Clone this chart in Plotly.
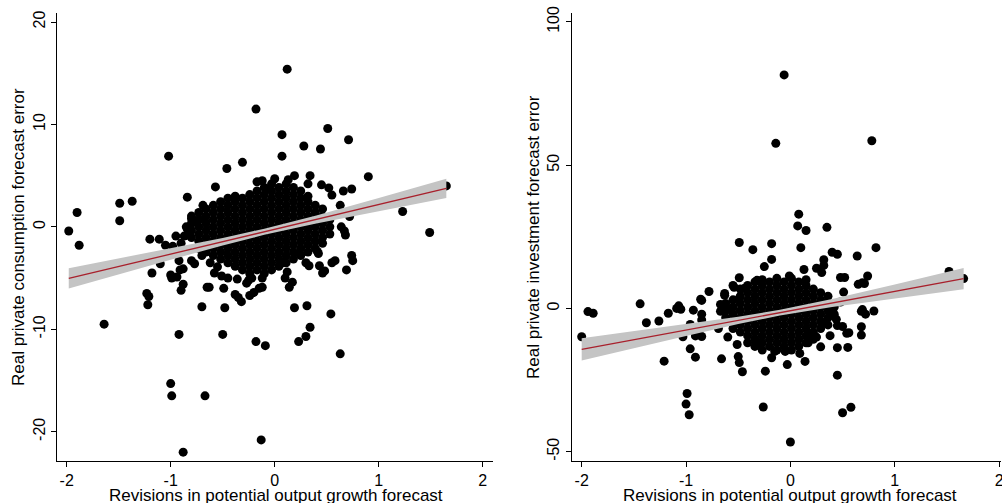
import plotly.graph_objects as go

# ---------------- Left panel: consumption ----------------
cons_out_x = [0.12, -0.18, 0.07, 0.51, 0.71, 0.28, 0.44, 0.07, -1.02, -0.31, -0.46, 0.90, 1.65, 1.23, 1.49,
              -1.98, -1.90, -1.88, -1.49, -1.37, -1.49, -0.84, -0.57, -0.17, -0.12, 0.00, 0.19, 0.34, 0.45, 0.32,
              0.13, 0.52, 0.66, 0.74, 0.55, 0.63, 0.64, 0.68, 0.67, 0.72, -0.69, -0.08, -0.68, -0.80, -0.77,
              -0.85, -0.84, -1.20, -1.11, -1.05, -0.98, -0.95, -0.90, -0.87, -0.84,
              -1.64, -1.18, -1.10, -1.23, -1.21, -1.22, -1.00, -0.99, -0.94, -0.91, -0.90, -0.88, -0.92, -0.88,
              -0.80, -0.77, -0.92, -1.00, -0.99, -0.88, -0.67, -0.70, -0.65, -0.63, -0.50, -0.48, -0.49, -0.38,
              -0.35, -0.32, -0.18, -0.09, -0.13, -0.12, -0.12, -0.20, -0.25, -0.22, 0.19, 0.31, 0.54, 0.34,
              0.30, 0.23, 0.63, 0.69, 0.74, 0.75, 0.55, 0.58, 0.48, 0.43, 0.46, 0.12, 0.10, 0.17, 0.14, 0.30,
              0.41, 0.46, 0.42, 0.24, 0.33, 0.08, -0.58, -0.51, -0.45, -0.36, -0.27, -0.70, -0.62, -0.55,
              -0.24, -0.15]
cons_out_y = [15.4, 11.5, 9.0, 9.6, 8.5, 7.9, 7.6, 6.9, 6.9, 6.3, 5.7, 4.9, 4.0, 1.5, -0.55,
              -0.4, 1.4, -1.8, 2.3, 2.5, 0.6, 2.9, 3.9, 4.4, 4.5, 4.7, 5.0, 5.0, 4.1, 4.2,
              4.6, 3.8, 3.5, 3.7, 3.1, 2.1, 0.0, -0.8, -0.4, 1.0, 2.1, 3.7, 0.7, 0.8, 0.6,
              0.0, -0.2, -1.2, -1.2, -1.8, -1.9, -0.9, -1.6, -0.9, -0.8,
              -9.5, -4.5, -3.6, -6.5, -6.8, -7.6, -4.7, -5.0, -4.9, -4.2, -6.2, -5.6, -3.3, -4.1,
              -3.3, -3.6, -10.5, -15.3, -16.5, -22.0, -16.5, -7.8, -5.9, -5.9, -10.5, -7.9, -6.0, -6.6,
              -6.9, -7.3, -11.2, -11.6, -20.8, -5.0, -5.9, -6.4, -5.2, -5.0, -7.9, -7.7, -8.5, -9.8,
              -10.7, -11.2, -12.4, -4.2, -2.8, -3.3, -3.5, -3.3, -4.3, -3.8, -4.5, -4.4, -5.0, -5.4, -5.9, -3.5,
              -2.4, -1.6, -2.6, -2.6, -3.8, -3.5, -4.5, -4.8, -5.0, -5.1, -5.5, -2.8, -3.5, -3.9,
              -6.7, -6.0]

# dense cloud, read column by column (x, list of y)
cons_cloud_x = [-0.80, -0.73, -0.66, -0.59, -0.52, -0.45, -0.38, -0.31, -0.24, -0.17,
                -0.10, -0.03, 0.04, 0.11, 0.18, 0.25, 0.32, 0.39, 0.46, 0.53]
cons_cloud_y = [
    [-1.05, -0.35, 0.35, 1.05],
    [-2.1, -1.4, -0.7, 0.0, 0.7, 1.4],
    [-2.45, -1.75, -1.05, -0.35, 0.35, 1.05, 1.75],
    [-2.8, -2.1, -1.4, -0.7, 0.0, 0.7, 1.4, 2.1],
    [-3.15, -2.45, -1.75, -1.05, -0.35, 0.35, 1.05, 1.75, 2.45],
    [-3.5, -2.8, -2.1, -1.4, -0.7, 0.0, 0.7, 1.4, 2.1, 2.8],
    [-3.85, -3.15, -2.45, -1.75, -1.05, -0.35, 0.35, 1.05, 1.75, 2.45, 3.0],
    [-4.2, -3.5, -2.8, -2.1, -1.4, -0.7, 0.0, 0.7, 1.4, 2.1, 2.8],
    [-4.55, -3.85, -3.15, -2.45, -1.75, -1.05, -0.35, 0.35, 1.05, 1.75, 2.45, 3.15],
    [-4.2, -3.5, -2.8, -2.1, -1.4, -0.7, 0.0, 0.7, 1.4, 2.1, 2.8, 3.5],
    [-4.55, -3.85, -3.15, -2.45, -1.75, -1.05, -0.35, 0.35, 1.05, 1.75, 2.45, 3.15, 3.85],
    [-4.2, -3.5, -2.8, -2.1, -1.4, -0.7, 0.0, 0.7, 1.4, 2.1, 2.8, 3.5, 4.2],
    [-3.85, -3.15, -2.45, -1.75, -1.05, -0.35, 0.35, 1.05, 1.75, 2.45, 3.15, 3.85],
    [-3.5, -2.8, -2.1, -1.4, -0.7, 0.0, 0.7, 1.4, 2.1, 2.8, 3.5, 4.2],
    [-3.15, -2.45, -1.75, -1.05, -0.35, 0.35, 1.05, 1.75, 2.45, 3.15, 3.85],
    [-2.8, -2.1, -1.4, -0.7, 0.0, 0.7, 1.4, 2.1, 2.8, 3.5],
    [-2.45, -1.75, -1.05, -0.35, 0.35, 1.05, 1.75, 2.45, 3.0],
    [-2.1, -1.4, -0.7, 0.0, 0.7, 1.4, 2.1],
    [-1.05, -0.35, 0.35, 1.05, 1.75],
    [-0.7, 0.0, 0.7],
]

cons_fit_x = [-1.98, -1.5, -1.0, -0.5, -0.1, 0.4, 1.0, 1.65]
cons_fit_y = [-5.03, -3.87, -2.66, -1.45, -0.48, 0.73, 2.18, 3.75]
cons_ci_hw = [1.00, 0.77, 0.55, 0.36, 0.30, 0.39, 0.64, 0.94]

# ---------------- Right panel: investment ----------------
inv_out_x = [-0.06, -0.14, 0.78, 0.08, 0.07, 0.15, 0.35, -0.49, -0.36, -0.18, 0.10, 0.82, 0.40, 0.45, 0.64,
             -0.18, -0.25, -0.49, -0.32, -0.55, -0.54, -0.44, -0.78, -0.63, -0.63, -0.86, -0.85, -0.49,
             -1.09, -1.07, -1.05, -1.17, -1.26, -1.38, -1.44, -0.93, -0.85, -0.85, -0.96, -0.67, -0.67, -0.58,
             -2.00, -1.94, -1.89, -1.21, -1.03, -0.91, -0.85, -0.96, -0.91, -0.99, -1.00, -0.97, -0.88,
             -0.66, -0.69, -0.60, -0.51, -0.50, -0.49, -0.46, -0.24, -0.26, -0.18, -0.03, 0.09, 0.14, 0.00,
             -0.15, -0.05, 0.32, 0.32, 0.25, 0.13, -0.01, 0.30, 0.48, 0.52, 0.74, 0.71, 0.65, 0.69, 1.52,
             1.66, 0.51, 0.48, 0.69, 0.80, 0.72, 0.68, 0.44, 0.50, 0.56, 0.68, 0.68, 0.33, 0.54, 0.45, 0.55,
             0.45, 0.58, 0.50, 0.29, 0.17, 0.17, 0.38, 0.45, -0.30, 0.25]
inv_out_y = [81.5, 57.6, 58.5, 32.9, 28.8, 27.2, 28.3, 23.0, 20.5, 22.6, 21.2, 21.2, 19.6, 18.9, 18.3,
             17.1, 14.6, 10.7, 9.8, 8.0, 7.4, 7.0, 5.9, 5.2, 4.6, 3.2, 2.8, 3.6,
             0.0, 0.9, -0.3, -1.7, -4.4, -5.0, 1.6, -0.6, -2.0, -4.0, -5.6, 1.4, -1.0, -0.3,
             -9.9, -1.1, -1.7, -18.4, -9.9, -9.6, -9.8, -14.1, -17.0, -29.7, -33.4, -37.1, -7.5,
             -17.6, -7.0, -10.0, -12.6, -16.8, -18.9, -22.1, -21.9, -34.4, -17.2, -19.6, -15.7, -18.5, -46.6,
             -15.0, -15.0, 17.0, 15.0, 14.0, 13.6, 11.3, 12.5, 10.8, 10.8, 11.3, 8.7, 8.4, 9.0, 12.9,
             10.4, 5.7, 2.2, -0.4, -0.9, -2.0, -1.0, -3.8, -6.3, -8.5, -6.4, -9.3, -4.9, -8.7, -13.7, -13.6,
             -23.3, -34.5, -36.4, -13.4, -9.0, -12.0, -9.5, -6.0, -12.0, -10.0]

inv_cloud_x = [-0.62, -0.55, -0.48, -0.41, -0.34, -0.27, -0.20, -0.13, -0.06, 0.01,
               0.08, 0.15, 0.22, 0.29, 0.36, 0.42]
inv_cloud_y = [
    [-3.25, -0.75, 1.75],
    [-7.0, -4.5, -2.0, 0.5, 3.0],
    [-8.25, -5.75, -3.25, -0.75, 1.75, 4.25, 6.75],
    [-12.0, -9.5, -7.0, -4.5, -2.0, 0.5, 3.0, 5.5, 8.0],
    [-13.25, -10.75, -8.25, -5.75, -3.25, -0.75, 1.75, 4.25, 6.75, 9.25],
    [-14.5, -12.0, -9.5, -7.0, -4.5, -2.0, 0.5, 3.0, 5.5, 8.0, 10.0],
    [-13.25, -10.75, -8.25, -5.75, -3.25, -0.75, 1.75, 4.25, 6.75, 9.25],
    [-14.5, -12.0, -9.5, -7.0, -4.5, -2.0, 0.5, 3.0, 5.5, 8.0, 10.5],
    [-13.25, -10.75, -8.25, -5.75, -3.25, -0.75, 1.75, 4.25, 6.75, 9.25],
    [-14.5, -12.0, -9.5, -7.0, -4.5, -2.0, 0.5, 3.0, 5.5, 8.0, 10.5],
    [-13.25, -10.75, -8.25, -5.75, -3.25, -0.75, 1.75, 4.25, 6.75, 9.25],
    [-12.0, -9.5, -7.0, -4.5, -2.0, 0.5, 3.0, 5.5, 8.0, 10.0],
    [-10.75, -8.25, -5.75, -3.25, -0.75, 1.75, 4.25, 6.75],
    [-7.0, -4.5, -2.0, 0.5, 3.0, 5.5],
    [-5.75, -3.25, -0.75, 1.75, 4.25],
    [-2.0, 0.5],
]

inv_fit_x = [-2.0, -1.5, -1.0, -0.5, -0.1, 0.4, 1.0, 1.66]
inv_fit_y = [-14.3, -10.9, -7.55, -4.2, -1.5, 1.9, 5.95, 10.4]
inv_ci_hw = [3.9, 2.95, 2.05, 1.28, 1.0, 1.41, 2.4, 3.7]

x_ticks = [-2, -1, 0, 1, 2]
x_tick_text = ["-2", "-1", "0", "1", "2"]
cons_y_ticks = [-20, -10, 0, 10, 20]
cons_y_text = ["-20", "-10", "0", "10", "20"]
inv_y_ticks = [-50, 0, 50, 100]
inv_y_text = ["-50", "0", "50", "100"]

x_title = "Revisions in potential output growth forecast"
cons_title = "Real private consumption forecast error"
inv_title = "Real private investment forecast error"

FONT = "Liberation Sans, Arial, sans-serif"
FS_TICK = 16
FS_TITLE = 17
DOT = dict(color="black", size=9, line=dict(width=0))
FIT_COLOR = "#a8202c"
BAND_COLOR = "#c4c4c4"


def flatten(cx, cy):
    xs, ys = [], []
    for x, col in zip(cx, cy):
        for y in col:
            xs.append(x)
            ys.append(y)
    return xs, ys


fig = go.Figure()


def add_panel(xa, ya, out_x, out_y, cloud_x, cloud_y, fx, fy, hw):
    bx, by = flatten(cloud_x, cloud_y)
    fig.add_trace(go.Scatter(x=out_x + bx, y=out_y + by, mode="markers", marker=DOT,
                             xaxis=xa, yaxis=ya, showlegend=False, hoverinfo="skip"))
    hi = [a + b for a, b in zip(fy, hw)]
    lo = [a - b for a, b in zip(fy, hw)]
    fig.add_trace(go.Scatter(x=fx + fx[::-1], y=hi + lo[::-1], mode="lines", fill="toself",
                             fillcolor=BAND_COLOR, line=dict(width=0, color=BAND_COLOR),
                             xaxis=xa, yaxis=ya, showlegend=False, hoverinfo="skip"))
    fig.add_trace(go.Scatter(x=fx, y=fy, mode="lines", line=dict(color=FIT_COLOR, width=1.3),
                             xaxis=xa, yaxis=ya, showlegend=False, hoverinfo="skip"))


add_panel("x", "y", cons_out_x, cons_out_y, cons_cloud_x, cons_cloud_y,
          cons_fit_x, cons_fit_y, cons_ci_hw)
add_panel("x2", "y2", inv_out_x, inv_out_y, inv_cloud_x, inv_cloud_y,
          inv_fit_x, inv_fit_y, inv_ci_hw)

axis_common = dict(showline=True, linecolor="black", linewidth=1, ticks="outside", ticklen=5,
                   tickwidth=1, tickcolor="black", showgrid=False, zeroline=False, mirror=False,
                   automargin=False, ticklabeloverflow="allow",
                   tickfont=dict(family=FONT, size=FS_TICK, color="black"))

fig.update_layout(
    width=1002, height=503,
    margin=dict(l=57, r=1, t=13, b=42),
    paper_bgcolor="white", plot_bgcolor="white",
    font=dict(family=FONT, size=FS_TICK, color="black"),
    xaxis=dict(domain=[0, 0.4619], range=[-2.093, 2.099], tickvals=x_ticks, ticktext=x_tick_text,
               anchor="y", **axis_common),
    yaxis=dict(domain=[0, 1], range=[-22.86, 20.88], tickvals=cons_y_ticks, ticktext=cons_y_text,
               tickangle=-90, anchor="x", **axis_common),
    xaxis2=dict(domain=[0.5452, 1.0], range=[-2.096, 2.018], tickvals=x_ticks, ticktext=x_tick_text,
                anchor="y2", **axis_common),
    yaxis2=dict(domain=[0, 1], range=[-53.25, 103.1], tickvals=inv_y_ticks, ticktext=inv_y_text,
                tickangle=-90, anchor="x2", **axis_common),
)

title_font = dict(family=FONT, size=FS_TITLE, color="black")
# plot area: x 57..1001 px, y 13..461 px
fig.add_annotation(text=x_title, xref="paper", yref="paper", x=0.2315, y=-0.052,
                   xanchor="center", yanchor="top", showarrow=False, font=title_font)
fig.add_annotation(text=x_title, xref="paper", yref="paper", x=0.7765, y=-0.052,
                   xanchor="center", yanchor="top", showarrow=False, font=title_font)
fig.add_annotation(text=cons_title, xref="paper", yref="paper", x=-0.0413, y=0.5,
                   xanchor="center", yanchor="middle", textangle=-90, showarrow=False, font=title_font)
fig.add_annotation(text=inv_title, xref="paper", yref="paper", x=0.5042, y=0.5,
                   xanchor="center", yanchor="middle", textangle=-90, showarrow=False, font=title_font)

fig.write_html("out.html", config={"displayModeBar": False},
               post_script="document.body.style.margin='0';")
